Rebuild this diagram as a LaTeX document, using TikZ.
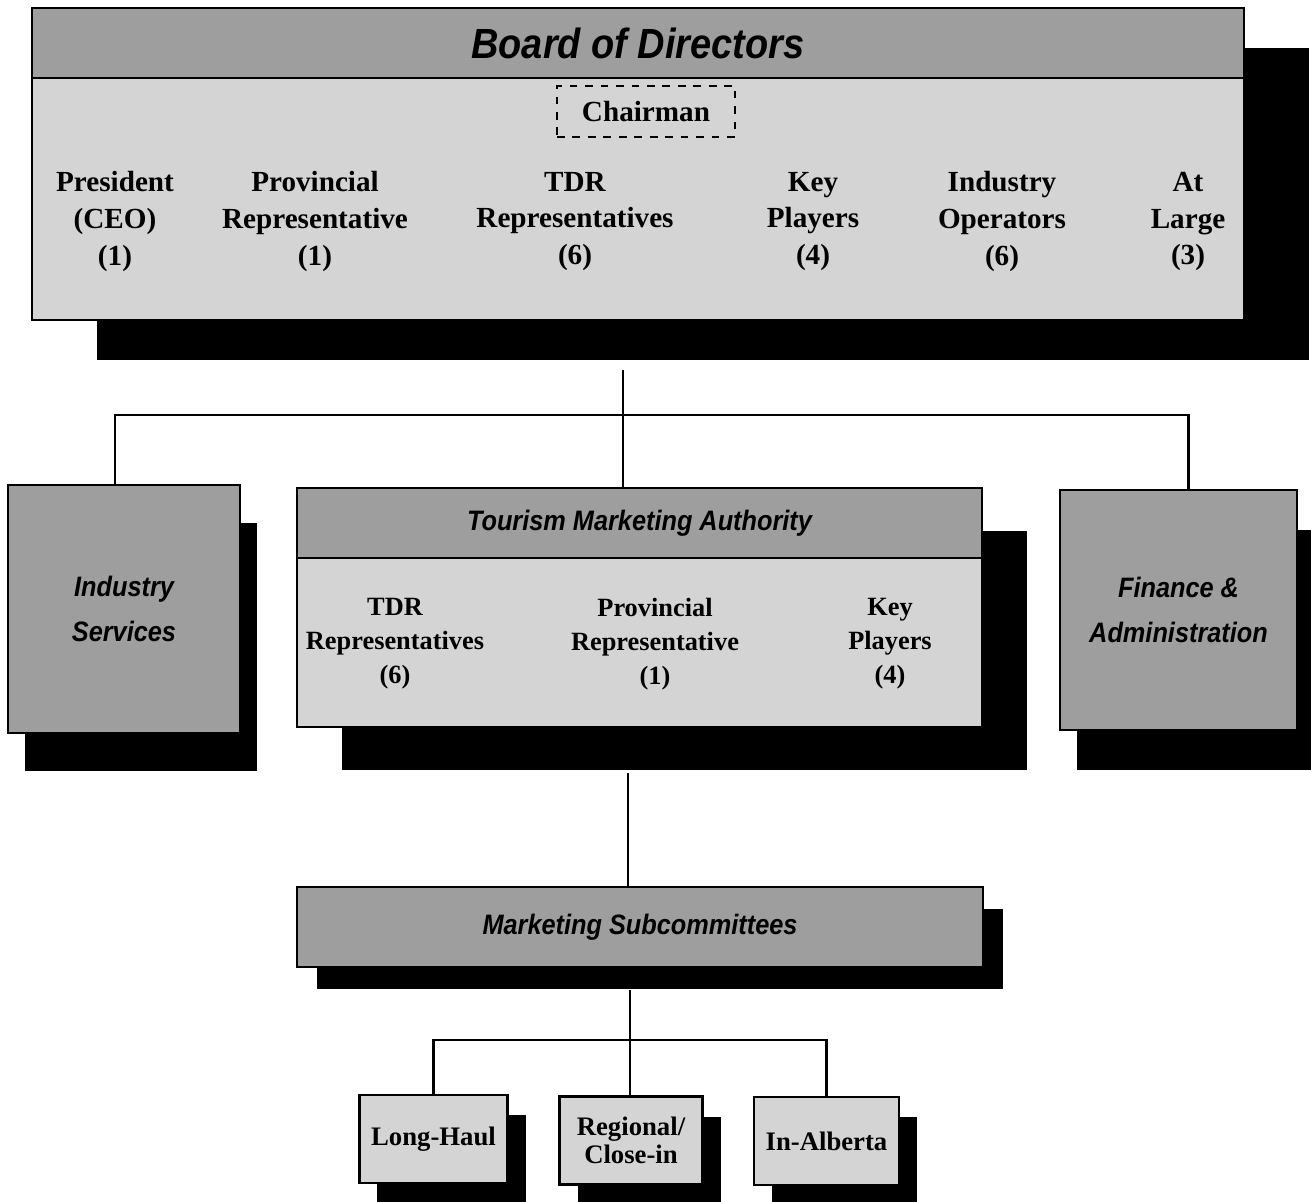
\documentclass[tikz,border=0pt]{standalone}
\usepackage{fontspec}
\setmainfont{Liberation Serif}
\newfontfamily\headfont[FakeStretch=0.9]{Liberation Sans Bold Italic}
\usetikzlibrary{shadows, positioning}
\definecolor{darkfill}{gray}{0.62}
\definecolor{lightfill}{gray}{0.83}

\begin{document}
\begin{tikzpicture}[
    castshadow/.style 2 args={drop shadow={shadow xshift=#1, shadow yshift=#2, fill=black, opacity=1}},
    panel/.style={rectangle, draw, line width=0.7pt, fill=lightfill, inner sep=0pt},
    headbar/.style={rectangle, draw, line width=0.7pt, fill=darkfill, inner sep=0pt, font=\headfont\fontsize{8}{9}\selectfont},
    unit/.style={rectangle, draw, line width=0.7pt, fill=darkfill, align=center, font=\headfont\fontsize{8}{13}\selectfont},
    member/.style={align=center, inner sep=1pt, font=\bfseries\fontsize{8.3}{10.5}\selectfont},
    smallmember/.style={align=center, inner sep=1pt, font=\bfseries\fontsize{7.5}{9.7}\selectfont},
    subbox/.style={rectangle, draw, line width=0.7pt, fill=lightfill, align=center, minimum width=1.43cm, minimum height=0.88cm, castshadow={0.18cm}{-0.20cm}, font=\bfseries\fontsize{7.6}{8}\selectfont},
    link/.style={line width=0.7pt}
]
\useasboundingbox (0,0) rectangle (13.11,-12.02);

% board of directors
\node[panel, minimum width=12.12cm, minimum height=3.12cm, castshadow={0.65cm}{-0.40cm}] (board) at (6.38,-1.64) {};
\node[headbar, minimum width=12.12cm, minimum height=0.70cm, anchor=north, font=\headfont\fontsize{12}{14}\selectfont] (boardhead) at (board.north) {Board of Directors};
\node[member, draw, line width=0.6pt, dash pattern=on 2.2pt off 2.2pt, minimum width=1.78cm, minimum height=0.51cm] (chair) at (6.46,-1.115) {Chairman};
\node[member] (pres) at (1.15,-2.215) {President\\(CEO)\\(1)};
\node[member] (prov) at (3.15,-2.215) {Provincial\\Representative\\(1)};
\node[member] (tdr) at (5.75,-2.215) {TDR\\Representatives\\(6)};
\node[member] (key) at (8.13,-2.215) {Key\\Players\\(4)};
\node[member] (indop) at (10.02,-2.215) {Industry\\Operators\\(6)};
\node[member] (large) at (11.88,-2.215) {At\\Large\\(3)};

% second level
\node[unit, minimum width=2.32cm, minimum height=2.48cm, castshadow={0.17cm}{-0.38cm}] (indsvc) at (1.24,-6.09) {Industry\\Services};
\node[panel, minimum width=6.85cm, minimum height=2.39cm, castshadow={0.45cm}{-0.43cm}] (tma) at (6.395,-6.075) {};
\node[headbar, minimum width=6.85cm, minimum height=0.70cm, anchor=north] (tmahead) at (tma.north) {Tourism Marketing Authority};
\node[smallmember] (tmatdr) at (3.95,-6.44) {TDR\\Representatives\\(6)};
\node[smallmember] (tmaprov) at (6.55,-6.44) {Provincial\\Representative\\(1)};
\node[smallmember] (tmakey) at (8.90,-6.44) {Key\\Players\\(4)};
\node[unit, minimum width=2.37cm, minimum height=2.40cm, castshadow={0.17cm}{-0.40cm}] (fin) at (11.785,-6.10) {Finance \&\\Administration};

% subcommittees
\node[headbar, minimum width=6.86cm, minimum height=0.80cm, castshadow={0.20cm}{-0.22cm}] (mkt) at (6.40,-9.27) {Marketing Subcommittees};
\node[subbox] (lh) at (4.335,-11.39) {Long-Haul};
\node[subbox] (reg) at (6.31,-11.405) {Regional/\\Close-in};
\node[subbox] (ina) at (8.265,-11.41) {In-Alberta};

% connectors
\coordinate (btop) at (6.23,-3.70);
\coordinate (bjoin) at (6.23,-4.15);
\draw[link] (btop) -- (bjoin |- tma.north);
\draw[link] ([xshift=-0.09cm]indsvc.north) |- (bjoin) -| ([xshift=0.10cm]fin.north);
\coordinate (tbot) at (6.28,-7.73);
\draw[link] (tbot) -- (tbot |- mkt.north);
\coordinate (mbot) at (6.30,-9.90);
\coordinate (mjoin) at (6.30,-10.40);
\draw[link] (mbot) -- (mjoin |- reg.north);
\draw[link] (lh.north) |- (mjoin) -| (ina.north);
\end{tikzpicture}
\end{document}
